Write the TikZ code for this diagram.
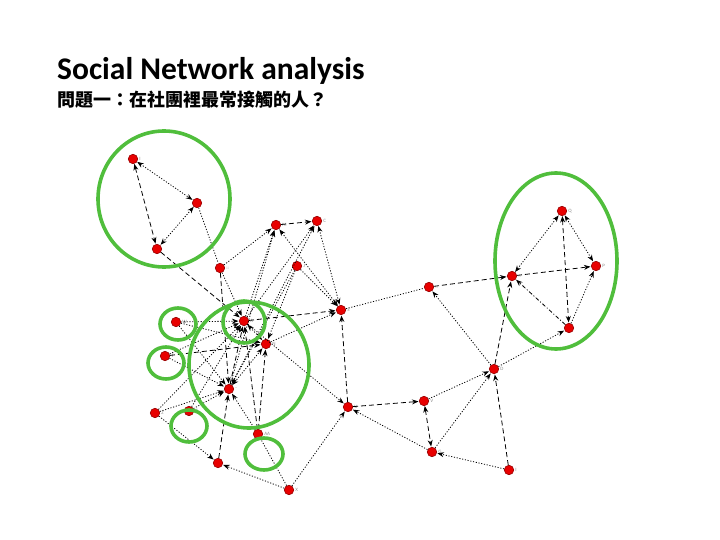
\documentclass[tikz,border=0pt]{standalone}
\usepackage{fontspec}
\setmainfont{Carlito}
\newfontfamily\cjk{Noto Sans CJK TC}
\usepackage{tikz}
\usetikzlibrary{arrows,arrows.meta,shapes,calc,positioning}
\definecolor{ringgreen}{RGB}{80,190,60}
\definecolor{dotred}{RGB}{232,0,0}
\definecolor{dotrim}{RGB}{150,0,0}
\tikzstyle{person}=[circle,fill=dotred,draw=dotrim,line width=0.6pt,minimum size=9.5pt,inner sep=0pt]
\tikzstyle{lbl}=[font=\fontsize{5}{5}\selectfont,text=black!45,inner sep=1pt]
\tikzstyle{ring}=[draw=ringgreen,line width=3.6pt]
\tikzstyle{tie}=[black,line width=0.8pt,dash pattern=on 1.1pt off 1.7pt]
\tikzstyle{tiedash}=[black,line width=0.8pt,dash pattern=on 5pt off 3pt]
\tikzstyle{tiedot}=[black,line width=0.8pt,dash pattern=on 4pt off 2pt on 1pt off 2pt]

\begin{document}
\begin{tikzpicture}[x=1pt,y=-1pt,>={Stealth[length=6.5pt,width=5pt]},shorten >=0.5pt]
  \useasboundingbox (0,0) rectangle (720,540);

  % title
  \node[anchor=base west,inner sep=0pt] (title) at (57,80)
    {\bfseries\fontsize{31.5}{33}\selectfont Social Network analysis};
  \node[anchor=base west,inner sep=0pt] (question) at (57,107)
    {\cjk\bfseries\fontsize{18}{20}\selectfont 問題一：在社團裡最常接觸的人？};

  % people
  \node[person,label={[lbl]right:I}] (i) at (133,159) {};
  \node[person] (k) at (197,203) {};
  \node[person] (h) at (157,249) {};
  \node[person,label={[lbl]right:M}] (m) at (276,225) {};
  \node[person,label={[lbl]right:C}] (c) at (317,221) {};
  \node[person,label={[lbl]right:::}] (o) at (220,268) {};
  \node[person,label={[lbl]right:J}] (j) at (297,266) {};
  \node[person,label={[lbl]right:S}] (s) at (341,310) {};
  \node[person,label={[lbl]right:A}] (a) at (244,321) {};
  \node[person,label={[lbl]right:N}] (n) at (266,344) {};
  \node[person,label={[lbl]right:W}] (w) at (176,322) {};
  \node[person,label={[lbl]right:T}] (t) at (165,356) {};
  \node[person,label={[lbl]right:-}] (l) at (229,389) {};
  \node[person,label={[lbl]right:Z}] (y) at (155,413) {};
  \node[person,label={[lbl]right:Z}] (z) at (189,411) {};
  \node[person,label={[lbl]right:AA}] (aa) at (258,434) {};
  \node[person] (b) at (218,463) {};
  \node[person,label={[lbl]right:X}] (x) at (289,490) {};
  \node[person,label={[lbl]right:U}] (u) at (348,407) {};
  \node[person,label={[lbl]right:::}] (e) at (429,287) {};
  \node[person,label={[lbl]right:V}] (v) at (424,401) {};
  \node[person,label={[lbl]right:G}] (g) at (432,452) {};
  \node[person,label={[lbl]right:D}] (d) at (494,369) {};
  \node[person,label={[lbl]right:::}] (r) at (512,276) {};
  \node[person,label={[lbl]right:Q}] (q) at (562,211) {};
  \node[person,label={[lbl]right:P}] (p) at (596,266) {};
  \node[person] (f) at (569,328) {};
  \node[person,label={[lbl]right:I}] (bb) at (509,470) {};

  % ties
  \path (i) edge[tie,<->] (k);
  \path (i) edge[tiedash,<->] (h);
  \path (k) edge[tie,<->] (h);
  \path (k) edge[tie] (o);
  \path (h) edge[tiedash,->] (a);
  \path (o) edge[tie,->] (m);
  \path (m) edge[tiedash,->] (c);
  \path (o) edge[tie,->] (a);
  \path (o) edge[tiedash,->] (l);
  \path (a) edge[tie,->] (m);
  \path (a) edge[tie,->] (c);
  \path (l) edge[tie,->] (c);
  \path (l) edge[tie,->] (m);
  \path (s) edge[tie,<->] (m);
  \path (c) edge[tie,<->] (s);
  \path (j) edge[tie,->] (n);
  \path (j) edge[tie,->] (s);
  \path (j) edge[tie,->] (l);
  \path (a) edge[tiedash,->] (s);
  \path (n) edge[tie,->] (s);
  \path (u) edge[tiedash,->] (s);
  \path (s) edge[tie] (e);
  \path (e) edge[tiedash,->] (r);
  \path (d) edge[tie,->] (e);
  \path (d) edge[tiedash,->] (r);
  \path (d) edge[tie,->] (f);
  \path (r) edge[tie,<->] (q);
  \path (r) edge[tiedash,->] (p);
  \path (q) edge[tie,<->] (p);
  \path (q) edge[tiedash,<->] (f);
  \path (f) edge[tie,->] (p);
  \path (f) edge[tiedot,->] (r);
  \path (v) edge[tie,->] (d);
  \path (g) edge[tie,->] (d);
  \path (bb) edge[tiedash,->] (d);
  \path (v) edge[tiedash,<->] (g);
  \path (u) edge[tiedash,->] (v);
  \path (g) edge[tie,->] (u);
  \path (bb) edge[tie,->] (g);
  \path (x) edge[tie,->] (u);
  \path (x) edge[tie,->] (b);
  \path (x) edge[tie] (aa);
  \path (aa) edge[tie,->] (l);
  \path (aa) edge[tiedash,->] (a);
  \path (aa) edge[tiedash,->] (n);
  \path (b) edge[tiedash,->] (l);
  \path (y) edge[tie,->] (b);
  \path (y) edge[tie,->] (l);
  \path (y) edge[tie,->] (a);
  \path (w) edge[tie,->] (a);
  \path (w) edge[tie,->] (n);
  \path (w) edge[tie,->] (l);
  \path (t) edge[tie,->] (a);
  \path (t) edge[tie,->] (l);
  \path (t) edge[tiedash,->] (n);
  \path (z) edge[tie,->] (l);
  \path (z) edge[tie,->] (a);
  \path (l) edge[tiedash,->] (a);
  \path (l) edge[tie,<->] (n);
  \path (a) edge[tie,<->] (n);
  \path (a) edge[tie,->] (u);

  % groups
  \draw[ring] (164,199) ellipse [x radius=66pt, y radius=68pt];
  \draw[ring] (556,261) ellipse [x radius=61pt, y radius=88pt];
  \draw[ring] (249,365) ellipse [x radius=60pt, y radius=63pt];
  \draw[ring] (244,322) circle [radius=21pt];
  \draw[ring] (178,324) ellipse [x radius=18pt, y radius=16pt];
  \draw[ring] (166,363) ellipse [x radius=18pt, y radius=16pt];
  \draw[ring] (189,426) ellipse [x radius=18pt, y radius=16pt];
  \draw[ring] (264,454) ellipse [x radius=19pt, y radius=16pt];
\end{tikzpicture}
\end{document}
